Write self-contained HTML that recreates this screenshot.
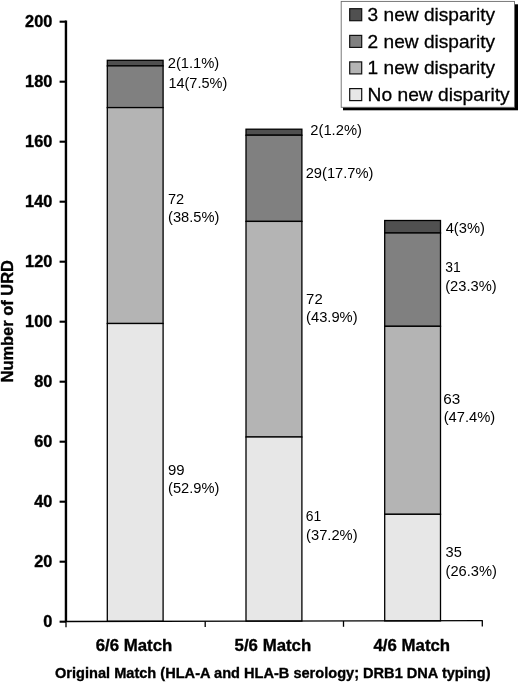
<!DOCTYPE html>
<html><head><meta charset="utf-8"><title>Chart</title>
<style>
html,body{margin:0;padding:0;background:#fff;}
svg{display:block;}
text{font-family:"Liberation Sans",Arial,sans-serif;fill:#000;}
.b{font-weight:bold;stroke:#000;stroke-width:0.35px;}
</style></head><body>
<svg width="520" height="682" viewBox="0 0 520 682">
<rect width="520" height="682" fill="#fff"/>
<rect x="107.3" y="60.3" width="55.8" height="5.6" fill="#505050" stroke="#000" stroke-width="1.3"/>
<rect x="107.3" y="65.9" width="55.8" height="41.7" fill="#808080" stroke="#000" stroke-width="1.3"/>
<rect x="107.3" y="107.6" width="55.8" height="215.9" fill="#b4b4b4" stroke="#000" stroke-width="1.3"/>
<rect x="107.3" y="323.5" width="55.8" height="297.8" fill="#e7e7e7" stroke="#000" stroke-width="1.3"/>
<rect x="246.0" y="129.2" width="55.9" height="6.0" fill="#505050" stroke="#000" stroke-width="1.3"/>
<rect x="246.0" y="135.2" width="55.9" height="86.2" fill="#808080" stroke="#000" stroke-width="1.3"/>
<rect x="246.0" y="221.4" width="55.9" height="215.6" fill="#b4b4b4" stroke="#000" stroke-width="1.3"/>
<rect x="246.0" y="437.0" width="55.9" height="184.1" fill="#e7e7e7" stroke="#000" stroke-width="1.3"/>
<rect x="384.7" y="220.5" width="55.8" height="12.5" fill="#505050" stroke="#000" stroke-width="1.3"/>
<rect x="384.7" y="233.0" width="55.8" height="93.3" fill="#808080" stroke="#000" stroke-width="1.3"/>
<rect x="384.7" y="326.3" width="55.8" height="188.0" fill="#b4b4b4" stroke="#000" stroke-width="1.3"/>
<rect x="384.7" y="514.3" width="55.8" height="106.6" fill="#e7e7e7" stroke="#000" stroke-width="1.3"/>
<line x1="65.95" y1="20.5" x2="65.95" y2="622" stroke="#000" stroke-width="2.4"/>
<line x1="65" y1="621.5" x2="482.8" y2="620.7" stroke="#000" stroke-width="1.3"/>
<line x1="59.6" y1="21.7" x2="66" y2="21.7" stroke="#000" stroke-width="2.1"/>
<text class="b" x="25.1" y="27.2" font-size="15.8" textLength="27.2" lengthAdjust="spacingAndGlyphs">200</text>
<line x1="59.6" y1="81.7" x2="66" y2="81.7" stroke="#000" stroke-width="2.1"/>
<text class="b" x="25.1" y="87.2" font-size="15.8" textLength="27.2" lengthAdjust="spacingAndGlyphs">180</text>
<line x1="59.6" y1="141.7" x2="66" y2="141.7" stroke="#000" stroke-width="2.1"/>
<text class="b" x="25.1" y="147.2" font-size="15.8" textLength="27.2" lengthAdjust="spacingAndGlyphs">160</text>
<line x1="59.6" y1="201.7" x2="66" y2="201.7" stroke="#000" stroke-width="2.1"/>
<text class="b" x="25.1" y="207.2" font-size="15.8" textLength="27.2" lengthAdjust="spacingAndGlyphs">140</text>
<line x1="59.6" y1="261.7" x2="66" y2="261.7" stroke="#000" stroke-width="2.1"/>
<text class="b" x="25.1" y="267.2" font-size="15.8" textLength="27.2" lengthAdjust="spacingAndGlyphs">120</text>
<line x1="59.6" y1="321.7" x2="66" y2="321.7" stroke="#000" stroke-width="2.1"/>
<text class="b" x="25.1" y="327.2" font-size="15.8" textLength="27.2" lengthAdjust="spacingAndGlyphs">100</text>
<line x1="59.6" y1="381.7" x2="66" y2="381.7" stroke="#000" stroke-width="2.1"/>
<text class="b" x="34.2" y="387.2" font-size="15.8" textLength="18.1" lengthAdjust="spacingAndGlyphs">80</text>
<line x1="59.6" y1="441.7" x2="66" y2="441.7" stroke="#000" stroke-width="2.1"/>
<text class="b" x="34.2" y="447.2" font-size="15.8" textLength="18.1" lengthAdjust="spacingAndGlyphs">60</text>
<line x1="59.6" y1="501.7" x2="66" y2="501.7" stroke="#000" stroke-width="2.1"/>
<text class="b" x="34.2" y="507.2" font-size="15.8" textLength="18.1" lengthAdjust="spacingAndGlyphs">40</text>
<line x1="59.6" y1="561.7" x2="66" y2="561.7" stroke="#000" stroke-width="2.1"/>
<text class="b" x="34.2" y="567.2" font-size="15.8" textLength="18.1" lengthAdjust="spacingAndGlyphs">20</text>
<line x1="59.6" y1="621.7" x2="66" y2="621.7" stroke="#000" stroke-width="2.1"/>
<text class="b" x="43.2" y="627.2" font-size="15.8" textLength="9.1" lengthAdjust="spacingAndGlyphs">0</text>
<line x1="66" y1="621.5" x2="66" y2="627.3" stroke="#000" stroke-width="1.3"/>
<line x1="205.2" y1="621.3" x2="205.2" y2="627.0999999999999" stroke="#000" stroke-width="1.3"/>
<line x1="343.5" y1="621.0" x2="343.5" y2="626.8" stroke="#000" stroke-width="1.3"/>
<line x1="482.3" y1="620.7" x2="482.3" y2="626.5" stroke="#000" stroke-width="1.3"/>
<text class="b" x="95.7" y="650.9" font-size="17" textLength="76.6" lengthAdjust="spacingAndGlyphs">6/6 Match</text>
<text class="b" x="234.6" y="650.9" font-size="17" textLength="76.6" lengthAdjust="spacingAndGlyphs">5/6 Match</text>
<text class="b" x="373.5" y="650.9" font-size="17" textLength="76.6" lengthAdjust="spacingAndGlyphs">4/6 Match</text>
<text class="b" x="55" y="677.6" font-size="15" textLength="435.5" lengthAdjust="spacingAndGlyphs">Original Match (HLA-A and HLA-B serology; DRB1 DNA typing)</text>
<text class="b" transform="translate(13.2,382.5) rotate(-90)" font-size="16.5" textLength="122.5" lengthAdjust="spacingAndGlyphs">Number of URD</text>
<text x="167.7" y="67.7" font-size="14.6" textLength="51.6" lengthAdjust="spacingAndGlyphs">2(1.1%)</text>
<text x="168.4" y="87.7" font-size="14.6" textLength="58.9" lengthAdjust="spacingAndGlyphs">14(7.5%)</text>
<text x="168.0" y="203.8" font-size="14.6" textLength="16.2" lengthAdjust="spacingAndGlyphs">72</text>
<text x="168.0" y="221.8" font-size="14.6" textLength="51.3" lengthAdjust="spacingAndGlyphs">(38.5%)</text>
<text x="168.0" y="475.0" font-size="14.6" textLength="16.6" lengthAdjust="spacingAndGlyphs">99</text>
<text x="168.0" y="493.2" font-size="14.6" textLength="51.3" lengthAdjust="spacingAndGlyphs">(52.9%)</text>
<text x="310.3" y="134.7" font-size="14.6" textLength="51.6" lengthAdjust="spacingAndGlyphs">2(1.2%)</text>
<text x="305.7" y="178.1" font-size="14.6" textLength="67.8" lengthAdjust="spacingAndGlyphs">29(17.7%)</text>
<text x="306.1" y="303.8" font-size="14.6" textLength="16.6" lengthAdjust="spacingAndGlyphs">72</text>
<text x="306.1" y="322.0" font-size="14.6" textLength="51.5" lengthAdjust="spacingAndGlyphs">(43.9%)</text>
<text x="305.7" y="521.1" font-size="14.6" textLength="15.5" lengthAdjust="spacingAndGlyphs">61</text>
<text x="306.1" y="539.7" font-size="14.6" textLength="51.5" lengthAdjust="spacingAndGlyphs">(37.2%)</text>
<text x="445.7" y="233.1" font-size="14.6" textLength="39.2" lengthAdjust="spacingAndGlyphs">4(3%)</text>
<text x="445.2" y="271.5" font-size="14.6" textLength="15.5" lengthAdjust="spacingAndGlyphs">31</text>
<text x="445.2" y="290.5" font-size="14.6" textLength="51.5" lengthAdjust="spacingAndGlyphs">(23.3%)</text>
<text x="443.2" y="403.8" font-size="14.6" textLength="17.0" lengthAdjust="spacingAndGlyphs">63</text>
<text x="443.7" y="422.0" font-size="14.6" textLength="51.6" lengthAdjust="spacingAndGlyphs">(47.4%)</text>
<text x="445.5" y="557.4" font-size="14.6" textLength="16.3" lengthAdjust="spacingAndGlyphs">35</text>
<text x="445.5" y="575.8" font-size="14.6" textLength="51.4" lengthAdjust="spacingAndGlyphs">(26.3%)</text>
<rect x="343" y="4.3" width="175" height="106" fill="#000"/>
<rect x="341.2" y="1.4" width="173.3" height="105.9" fill="#fff" stroke="#6a6a6a" stroke-width="0.9"/>
<rect x="349.7" y="8.7" width="12" height="12" fill="#505050" stroke="#111" stroke-width="1.2"/>
<text x="367.6" y="21.0" font-size="19" stroke="#000" stroke-width="0.3" textLength="127.5" lengthAdjust="spacingAndGlyphs">3 new disparity</text>
<rect x="349.7" y="35.4" width="12" height="12" fill="#808080" stroke="#111" stroke-width="1.2"/>
<text x="367.6" y="47.7" font-size="19" stroke="#000" stroke-width="0.3" textLength="127.5" lengthAdjust="spacingAndGlyphs">2 new disparity</text>
<rect x="349.7" y="61.9" width="12" height="12" fill="#b4b4b4" stroke="#111" stroke-width="1.2"/>
<text x="367.6" y="74.2" font-size="19" stroke="#000" stroke-width="0.3" textLength="127.5" lengthAdjust="spacingAndGlyphs">1 new disparity</text>
<rect x="349.7" y="88.6" width="12" height="12" fill="#e7e7e7" stroke="#111" stroke-width="1.2"/>
<text x="367.6" y="100.9" font-size="19" stroke="#000" stroke-width="0.3" textLength="142.0" lengthAdjust="spacingAndGlyphs">No new disparity</text>
</svg></body></html>
